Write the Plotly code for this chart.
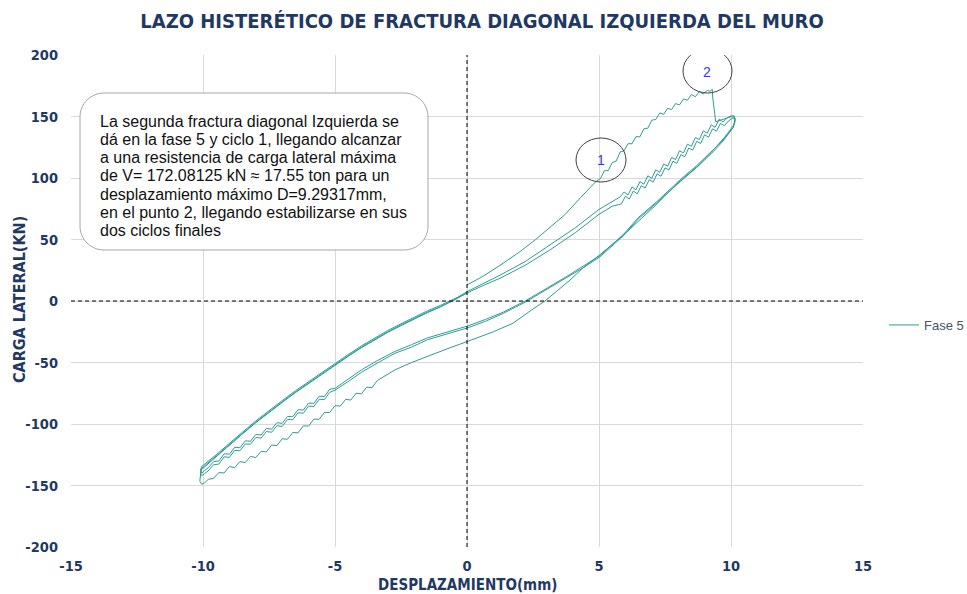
import plotly.graph_objects as go

# ---- Fase 5: desplazamiento (mm) y carga lateral (kN), por tramos del ensayo ----
# Carga inicial del ciclo 1 (hasta el punto 2 y caida)
d_carga_c1 = [0.00, 0.60, 1.25, 2.00, 2.60, 3.14, 3.70, 4.30, 4.90, 5.05, 5.20, 5.35, 5.50, 5.65,
              5.80, 5.95, 6.10, 6.25, 6.40, 6.55, 6.70, 6.85, 7.00, 7.15, 7.30, 7.45, 7.60, 7.75,
              7.90, 8.05, 8.20, 8.35, 8.50, 8.65, 8.80, 8.95, 9.10, 9.20, 9.29, 9.31, 9.36, 9.42,
              9.60, 9.80, 10.00, 10.12]
v_carga_c1 = [13.0, 20.0, 29.0, 40.0, 50.0, 60.0, 70.0, 84.0, 97.5, 99.4, 105.8, 106.1, 112.5, 113.8,
              121.1, 122.1, 127.9, 127.8, 133.6, 133.5, 140.0, 140.5, 147.0, 147.6, 152.9, 151.8, 156.7, 155.6,
              160.5, 159.4, 164.3, 163.2, 167.9, 166.1, 170.2, 168.3, 171.2, 170.4, 172.08, 165.0, 155.0, 145.8,
              147.0, 148.5, 149.8, 149.5]

# Descarga del ciclo 1 hasta el pico negativo
d_descarga_c1 = [10.15, 10.08, 9.70, 9.30, 8.70, 8.10, 7.60, 7.20, 6.60, 6.00, 5.50, 5.00, 4.40, 3.90,
                 3.40, 2.95, 2.40, 1.75, 1.00, 0.40, 0.00, -0.64, -1.47, -2.10, -2.73, -3.10,
                 -3.40, -3.60, -3.80, -4.00, -4.20, -4.40, -4.60, -4.80, -5.00, -5.20, -5.40, -5.60,
                 -5.80, -6.00, -6.20, -6.40, -6.60, -6.80, -7.00, -7.20, -7.40, -7.60, -7.80, -8.00,
                 -8.20, -8.40, -8.60, -8.80, -9.00, -9.20, -9.40, -9.60, -9.80, -9.95, -10.05, -10.12, -10.10]
v_descarga_c1 = [146.0, 141.0, 132.0, 122.0, 109.0, 98.0, 88.0, 79.0, 67.0, 55.0, 46.0, 37.0, 27.0, 17.0,
                 8.0, 0.0, -8.0, -18.0, -25.0, -30.0, -33.0, -38.0, -45.0, -50.0, -56.0, -61.0,
                 -64.7, -70.5, -70.0, -75.5, -75.0, -80.5, -80.0, -85.5, -85.0, -90.7, -90.5, -96.2,
                 -96.0, -101.7, -101.5, -107.2, -106.9, -112.4, -112.0, -117.6, -117.1, -122.7, -122.2, -127.3,
                 -126.3, -131.4, -130.5, -135.5, -134.6, -139.8, -139.5, -144.2, -145.0, -148.0, -149.0, -146.5, -142.0]

# Recarga del ciclo 1 hacia el origen
d_recarga_c1 = [-10.07, -10.00, -9.50, -9.00, -8.50, -8.00, -7.50, -7.00, -6.50, -6.00, -5.50, -5.00,
                -4.50, -4.00, -3.50, -3.00, -2.50, -2.00, -1.50, -1.00, -0.50, 0.00]
v_recarga_c1 = [-137.0, -136.0, -126.5, -117.0, -108.0, -99.0, -90.5, -82.5, -74.5, -67.0, -59.5, -52.0,
                -45.0, -38.0, -31.5, -25.5, -20.0, -14.5, -9.5, -4.8, 1.0, 7.6]

# Carga del ciclo 2
d_carga_c2 = [0.60, 1.25, 2.20, 3.14, 4.10, 5.00, 5.50, 5.80, 5.95, 6.10, 6.25, 6.40, 6.55, 6.70,
              6.85, 7.00, 7.15, 7.30, 7.45, 7.60, 7.75, 7.90, 8.05, 8.20, 8.35, 8.50, 8.65, 8.80,
              8.95, 9.10, 9.25, 9.40, 9.55, 9.70, 9.85, 10.00, 10.12]
v_carga_c2 = [14.0, 21.0, 32.0, 45.5, 59.5, 74.5, 81.0, 84.6, 88.6, 86.2, 92.7, 90.4, 97.0, 95.0,
              101.8, 99.8, 106.6, 104.6, 111.4, 109.6, 116.7, 115.0, 122.1, 120.4, 127.5, 125.8, 132.9, 131.2,
              138.3, 136.4, 143.2, 141.2, 147.8, 145.6, 149.0, 150.5, 150.5]

# Descarga del ciclo 2
d_descarga_c2 = [10.16, 10.10, 9.70, 9.33, 8.70, 8.10, 7.20, 6.50, 5.92, 5.04, 4.40, 3.78, 3.00, 2.20,
                 1.38, 0.70, 0.00, -0.64, -1.50, -2.10, -2.73, -3.40, -4.00, -4.50, -5.00,
                 -5.20, -5.40, -5.60, -5.80, -6.00, -6.20, -6.40, -6.60, -6.80, -7.00, -7.20, -7.40,
                 -7.60, -7.80, -8.00, -8.20, -8.40, -8.60, -8.80, -9.00, -9.20, -9.40, -9.60, -9.80,
                 -9.95, -10.05, -10.10, -10.08]
v_descarga_c2 = [148.0, 143.0, 131.0, 123.0, 110.0, 99.0, 81.0, 68.0, 54.0, 37.0, 28.0, 20.0, 10.0, 0.0,
                 -9.0, -15.0, -20.5, -24.5, -30.0, -35.5, -41.0, -48.5, -56.0, -63.5, -71.0,
                 -71.8, -77.6, -77.4, -83.2, -83.0, -88.7, -88.4, -94.1, -93.8, -99.5, -98.9, -104.2,
                 -103.6, -109.0, -108.4, -114.0, -113.7, -119.3, -118.9, -124.6, -124.2, -130.1, -130.6, -135.6,
                 -138.0, -140.0, -138.0, -136.0]

# Recarga del ciclo 2
d_recarga_c2 = [-10.05, -9.50, -9.00, -8.50, -8.00, -7.50, -7.00, -6.50, -6.00, -5.50, -5.00, -4.50,
                -4.00, -3.50, -3.00, -2.50, -2.00, -1.50, -1.00, -0.50, 0.00]
v_recarga_c2 = [-134.5, -125.0, -115.5, -106.5, -97.5, -89.0, -81.0, -73.0, -65.5, -58.0, -50.5, -43.5,
                -36.5, -30.0, -24.0, -18.5, -13.0, -8.0, -3.5, 1.5, 7.0]

# Carga del ciclo 3
d_carga_c3 = [0.60, 1.25, 2.20, 3.14, 4.10, 5.00, 5.50, 5.85, 6.00, 6.15, 6.30, 6.45, 6.60, 6.75,
              6.90, 7.05, 7.20, 7.35, 7.50, 7.65, 7.80, 7.95, 8.10, 8.25, 8.40, 8.55, 8.70, 8.85,
              9.00, 9.15, 9.30, 9.45, 9.60, 9.75, 9.90, 10.05, 10.14]
v_carga_c3 = [12.5, 18.5, 29.0, 41.5, 55.5, 70.5, 77.0, 79.0, 85.2, 82.9, 89.4, 87.1, 93.8, 91.8,
              98.6, 96.6, 103.4, 101.4, 108.2, 106.5, 113.6, 111.9, 119.0, 117.3, 124.4, 122.7, 129.8, 128.1,
              135.2, 133.2, 140.0, 138.0, 144.4, 142.5, 146.3, 148.5, 148.8]

# Descarga del ciclo 3
d_descarga_c3 = [10.15, 10.08, 9.70, 9.33, 8.70, 8.10, 7.20, 6.50, 5.92, 5.04, 4.40, 3.78, 3.00, 2.20,
                 1.38, 0.70, 0.00, -0.64, -1.50, -2.10, -2.73, -3.40, -4.00, -4.50, -5.00,
                 -5.20, -5.40, -5.60, -5.80, -6.00, -6.20, -6.40, -6.60, -6.80, -7.00, -7.20, -7.40,
                 -7.60, -7.80, -8.00, -8.20, -8.40, -8.60, -8.80, -9.00, -9.20, -9.40, -9.60, -9.80,
                 -9.95, -10.05, -10.10, -10.08]
v_descarga_c3 = [146.0, 141.0, 130.0, 121.5, 108.5, 97.5, 80.0, 67.0, 53.0, 36.0, 27.0, 19.0, 9.0, -1.0,
                 -10.0, -16.5, -22.0, -26.0, -31.5, -37.5, -42.5, -50.5, -58.0, -65.5, -72.5,
                 -74.3, -80.1, -79.9, -85.7, -85.5, -91.2, -90.9, -96.6, -96.3, -102.0, -101.4, -106.7,
                 -106.1, -111.5, -110.9, -116.5, -116.2, -121.8, -121.4, -127.1, -126.7, -132.6, -133.1, -138.1,
                 -140.5, -142.0, -140.0, -137.5]

# Recarga final del ciclo 3
d_recarga_c3 = [-10.05, -9.50, -9.00, -8.50, -8.00, -7.50, -7.00, -6.50, -6.00, -5.50, -5.00, -4.50,
                -4.00, -3.50, -3.00, -2.50, -2.00, -1.50, -1.00, -0.50, 0.00]
v_recarga_c3 = [-136.0, -126.0, -116.5, -107.5, -98.5, -90.0, -82.0, -74.0, -66.5, -59.0, -51.5, -44.5,
                -37.5, -31.0, -25.0, -19.5, -14.0, -9.0, -4.5, 0.5, 6.5]

x_ticks = [-15, -10, -5, 0, 5, 10, 15]
y_ticks = [-200, -150, -100, -50, 0, 50, 100, 150, 200]

titulo = "LAZO HISTERÉTICO DE FRACTURA DIAGONAL IZQUIERDA DEL MURO"
nota = [
    "La segunda fractura diagonal Izquierda se",
    "dá en la fase 5 y ciclo 1, llegando alcanzar",
    "a una resistencia de carga lateral máxima",
    "de V= 172.08125 kN ≈ 17.55 ton para un",
    "desplazamiento máximo D=9.29317mm,",
    "en el punto 2, llegando estabilizarse en sus",
    "dos ciclos finales",
]

desplazamiento = (d_carga_c1 + d_descarga_c1 + d_recarga_c1 + d_carga_c2 + d_descarga_c2
                  + d_recarga_c2 + d_carga_c3 + d_descarga_c3 + d_recarga_c3)
carga = (v_carga_c1 + v_descarga_c1 + v_recarga_c1 + v_carga_c2 + v_descarga_c2
         + v_recarga_c2 + v_carga_c3 + v_descarga_c3 + v_recarga_c3)

# ---- page geometry (pixels) ----
W, H = 967, 594
L, R, T, B = 71, 863, 55, 547
XR = (-15, 15)
YR = (-200, 200)


def dx(p):
    return XR[0] + (p - L) / (R - L) * (XR[1] - XR[0])


def dy(p):
    return YR[1] - (p - T) / (B - T) * (YR[1] - YR[0])


NAVY = "#1F3864"
TEAL = "#2E9C96"
NARROW = "DejaVu Sans Condensed, DejaVu Sans, sans-serif"
SANS = "Liberation Sans, Arial, sans-serif"

fig = go.Figure()
fig.add_trace(go.Scatter(
    x=desplazamiento, y=carga, mode="lines", name="Fase 5",
    line=dict(color=TEAL, width=1),
))

shapes = []
# dashed axes through the origin
shapes.append(dict(type="line", xref="x", yref="y", x0=XR[0], x1=XR[1], y0=0, y1=0,
                   line=dict(color="black", width=1, dash="4px,3px"), layer="above"))
shapes.append(dict(type="line", xref="x", yref="y", x0=0, x1=0, y0=YR[0], y1=YR[1],
                   line=dict(color="black", width=1, dash="4px,3px"), layer="above"))

# rounded text box
bx0, bx1, by0, by1, rad = 80, 428, 93, 250, 24
xl, xr_, yt, yb = dx(bx0), dx(bx1), dy(by0), dy(by1)
rx = dx(bx0 + rad) - dx(bx0)
ry = dy(by0) - dy(by0 + rad)
k = 0.5523
path = (
    f"M {xl + rx},{yt} L {xr_ - rx},{yt} "
    f"C {xr_ - rx + k * rx},{yt} {xr_},{yt - ry + k * ry} {xr_},{yt - ry} "
    f"L {xr_},{yb + ry} "
    f"C {xr_},{yb + ry - k * ry} {xr_ - rx + k * rx},{yb} {xr_ - rx},{yb} "
    f"L {xl + rx},{yb} "
    f"C {xl + rx - k * rx},{yb} {xl},{yb + ry - k * ry} {xl},{yb + ry} "
    f"L {xl},{yt - ry} "
    f"C {xl},{yt - ry + k * ry} {xl + rx - k * rx},{yt} {xl + rx},{yt} Z"
)
shapes.append(dict(type="path", xref="x", yref="y", path=path, fillcolor="white",
                   line=dict(color="#A6A6A6", width=1), layer="above"))

# circles marking points 1 and 2
for (cx0, cx1, cy0, cy1) in [(576, 626, 138, 182), (683, 732, 49, 93)]:
    shapes.append(dict(type="circle", xref="x", yref="y",
                       x0=dx(cx0), x1=dx(cx1), y0=dy(cy1), y1=dy(cy0),
                       line=dict(color="#404040", width=1), layer="above"))

annotations = []
for i, linea in enumerate(nota):
    annotations.append(dict(
        text=linea, xref="x", yref="y", x=dx(98), y=dy(121 + 18.3 * i),
        xanchor="left", yanchor="middle", showarrow=False,
        font=dict(family=SANS, size=16, color="#111111"),
    ))
for etiqueta, (px, py) in [("1", (601, 160)), ("2", (707, 72))]:
    annotations.append(dict(
        text=etiqueta, xref="x", yref="y", x=dx(px), y=dy(py),
        xanchor="center", yanchor="middle", showarrow=False,
        font=dict(family=SANS, size=14, color="#3333FF"),
    ))
# axis titles
annotations.append(dict(text="DESPLAZAMIENTO(mm)", xref="paper", yref="paper",
                        x=(467 - L) / (R - L), y=-(585 - B) / (B - T), xanchor="center", yanchor="middle",
                        showarrow=False, font=dict(family=NARROW, size=15, color=NAVY, weight="bold")))
annotations.append(dict(text="CARGA LATERAL(KN)", xref="paper", yref="paper",
                        x=-(L - 19) / (R - L), y=(B - 300) / (B - T), xanchor="center", yanchor="middle",
                        textangle=-90, showarrow=False,
                        font=dict(family=NARROW, size=16, color=NAVY, weight="bold")))

fig.update_layout(
    width=W, height=H,
    margin=dict(l=L, r=W - R, t=T, b=H - B, pad=0, autoexpand=False),
    paper_bgcolor="white", plot_bgcolor="white",
    title=dict(text=titulo, x=482 / W, xanchor="center", y=1 - 21 / H, yanchor="middle",
               font=dict(family=NARROW, size=20, color=NAVY, weight="bold")),
    xaxis=dict(range=list(XR), tickvals=x_ticks, ticktext=[str(v) for v in x_ticks],
               showgrid=True, gridcolor="#D9D9D9", gridwidth=1, zeroline=False, showline=False,
               ticks="", ticklabelstandoff=8,
               tickfont=dict(family=NARROW, size=14.5, color=NAVY, weight="bold")),
    yaxis=dict(range=list(YR), tickvals=y_ticks, ticktext=[str(v) for v in y_ticks],
               showgrid=True, gridcolor="#D9D9D9", gridwidth=1, zeroline=False, showline=False,
               ticks="", ticklabelstandoff=12,
               tickfont=dict(family=NARROW, size=14.5, color=NAVY, weight="bold")),
    showlegend=True,
    legend=dict(x=(884 - L) / (R - L), xanchor="left", y=(B - 325) / (B - T), yanchor="middle",
                bgcolor="rgba(0,0,0,0)", font=dict(family=SANS, size=13, color="#44546A")),
    shapes=shapes,
    annotations=annotations,
)

fig.write_html("out.html")
